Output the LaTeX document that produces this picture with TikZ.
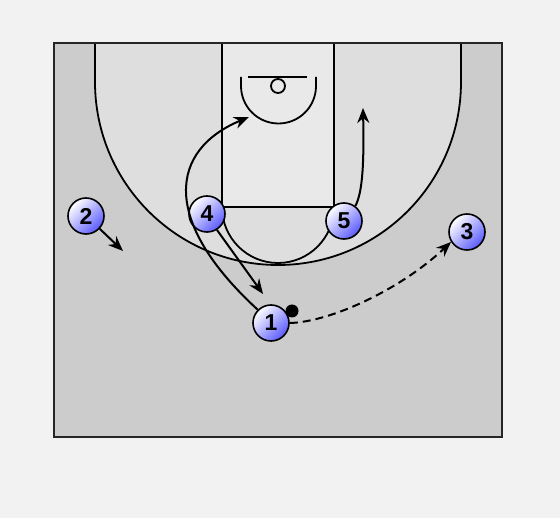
\documentclass[tikz,border=0pt]{standalone}
\usepackage{fontspec}
\setmainfont{Liberation Sans}
\usetikzlibrary{arrows.meta}
\definecolor{bgc}{HTML}{F2F2F2}
\definecolor{courtc}{HTML}{CCCCCC}
\definecolor{threec}{HTML}{DEDEDE}
\definecolor{lanec}{HTML}{E9E9E9}
\definecolor{playerc}{HTML}{5A5AFF}
\tikzset{
  player/.style={circle, draw=black, line width=1.6pt, minimum size=36pt, inner sep=0pt,
    top color=white, bottom color=playerc, shading angle=45,
    font=\fontsize{23}{23}\selectfont\bfseries},
  ballnode/.style={circle, fill=black, minimum size=13pt, inner sep=0pt},
  courtline/.style={line width=1.8pt, black},
  move/.style={line width=2pt, -{Stealth[length=15pt,width=12pt]}},
  pass/.style={move, dash pattern=on 8pt off 5pt},
}
\begin{document}
\begin{tikzpicture}[x=1pt,y=-1pt]
\useasboundingbox (0,0) rectangle (560,518);
\fill[bgc] (0,0) rectangle (560,518);
% court
\fill[courtc] (54,43) rectangle (502,437);
\begin{scope}
\clip (54,43) rectangle (502,437);
\fill[threec] (95,43) rectangle (461,82);
\fill[threec] (278,82) circle (183.5);
\end{scope}
\fill[lanec] (222,43) rectangle (334,207);
\draw[courtline] (95,43) -- (95,82) arc[start angle=180, end angle=0, radius=183] -- (461,43);
\draw[courtline] (222,43) rectangle (334,207);
\draw[courtline] (222,207) arc[start angle=180, end angle=0, radius=56];
\draw[courtline] (241,77) -- (241,86) arc[start angle=180, end angle=0, radius=37.5] -- (316,77);
\draw[courtline] (248,77) -- (307,77);
\draw[courtline] (278,86) circle (7);
\draw[line width=2.4pt, black!85] (54,43) rectangle (502,437);
% players
\node[player] (p1) at (271,323) {1};
\node[player] (p2) at (86,216) {2};
\node[player] (p3) at (467,232) {3};
\node[player] (p4) at (207,214) {4};
\node[player] (p5) at (344,221) {5};
\node[ballnode] (ball) at (292,311) {};
% targets
\coordinate (t1) at (249,117);
\coordinate (t2) at (123,251);
\coordinate (t4) at (263,294);
\coordinate (t5) at (363,108);
% movements
\draw[move] (p1.135) .. controls (160,220) and (170,150) .. (t1);
\draw[move] (p2.-43) -- (t2);
\draw[move] (p4.-58) -- (t4);
\draw[move] (p5.53) .. controls (363,192) and (364,160) .. (t5);
\draw[pass] (p1.east) .. controls (330,322) and (400,290) .. (p3.-148);
\end{tikzpicture}
\end{document}
